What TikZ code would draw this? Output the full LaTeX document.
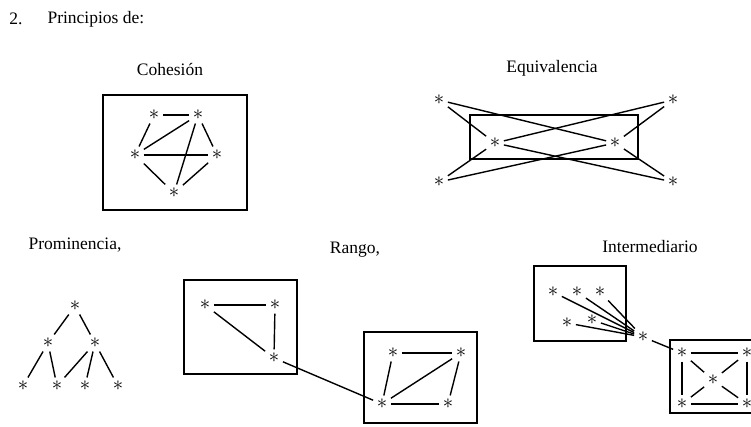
\documentclass[tikz,border=0pt]{standalone}
\usepackage{fontspec}
\setmainfont{Liberation Serif}
\usetikzlibrary{positioning}

\tikzset{
  astnode/.style={inner sep=3.5pt, font=\fontsize{21}{21}\selectfont},
  title/.style={font=\fontsize{17.5}{19}\selectfont},
  link/.style={line width=1.4pt},
  frame/.style={line width=1.3pt}
}
\newcommand{\ask}{$\ast$}

\begin{document}
\begin{tikzpicture}[x=1pt, y=-1pt]
\useasboundingbox (0,0) rectangle (751,427);

\node[title] (num)  at (16,19) {2.};
\node[title, anchor=west] (head) at (44,19) {Principios de:};

% Cohesion
\node[title] (tcoh) at (170,70) {Cohesión};
\draw[frame] (103,95) rectangle (247,210);
\node[astnode] (c1) at (154,115) {\ask};
\node[astnode] (c2) at (198,115) {\ask};
\node[astnode] (c3) at (135,155) {\ask};
\node[astnode] (c4) at (217,155) {\ask};
\node[astnode] (c5) at (174,193) {\ask};
\draw[link] (c1) -- (c2);
\draw[link] (c1) -- (c3);
\draw[link] (c2) -- (c4);
\draw[link] (c3) -- (c5);
\draw[link] (c4) -- (c5);
\draw[link] (c2) -- (c3);
\draw[link] (c2) -- (c5);
\draw[link] (c3) -- (c4);

% Equivalencia
\node[title] (tequ) at (552,68) {Equivalencia};
\draw[frame] (470,115) rectangle (638,159);
\node[astnode] (e1) at (439,100) {\ask};
\node[astnode] (e2) at (439,182) {\ask};
\node[astnode] (e3) at (673,100) {\ask};
\node[astnode] (e4) at (673,182) {\ask};
\node[astnode] (e5) at (495,143) {\ask};
\node[astnode] (e6) at (615,143) {\ask};
\foreach \a/\b in {e1/e5, e1/e6, e2/e5, e2/e6, e3/e6, e3/e5, e4/e6, e4/e5}
  \draw[link] (\a) -- (\b);

% Prominencia
\node[title] (tpro) at (75,245) {Prominencia,};
\node[astnode] (p1) at (75,306) {\ask};
\node[astnode] (p2) at (48,343) {\ask};
\node[astnode] (p3) at (95,343) {\ask};
\node[astnode] (p4) at (23,386) {\ask};
\node[astnode] (p5) at (57,386) {\ask};
\node[astnode] (p6) at (85,386) {\ask};
\node[astnode] (p7) at (118,386) {\ask};
\foreach \a/\b in {p1/p2, p1/p3, p2/p4, p2/p5, p3/p5, p3/p6, p3/p7}
  \draw[link] (\a) -- (\b);

% Rango
\node[title] (tran) at (355,250) {Rango,};
\draw[frame] (184,280) rectangle (297,374);
\draw[frame] (364,332) rectangle (477,423);
\node[astnode] (r1) at (205,305) {\ask};
\node[astnode] (r2) at (275,305) {\ask};
\node[astnode] (r3) at (274,358) {\ask};
\node[astnode] (r4) at (393,353) {\ask};
\node[astnode] (r5) at (461,353) {\ask};
\node[astnode] (r6) at (382,404) {\ask};
\node[astnode] (r7) at (448,404) {\ask};
\foreach \a/\b in {r1/r2, r2/r3, r1/r3, r3/r6, r4/r5, r5/r7, r6/r7, r4/r6, r6/r5}
  \draw[link] (\a) -- (\b);

% Intermediario
\node[title] (tint) at (650,247) {Intermediario};
\draw[frame] (534,266) rectangle (626,341);
\draw[frame] (670,340) rectangle (758,413);
\node[astnode] (i1) at (553,292) {\ask};
\node[astnode] (i2) at (577,292) {\ask};
\node[astnode] (i3) at (600,292) {\ask};
\node[astnode] (i4) at (567,323) {\ask};
\node[astnode] (i5) at (592,320) {\ask};
\node[astnode] (hub) at (643,337) {\ask};
\node[astnode] (q1) at (682,353) {\ask};
\node[astnode] (q2) at (747,353) {\ask};
\node[astnode] (q3) at (713,380) {\ask};
\node[astnode] (q4) at (682,404) {\ask};
\node[astnode] (q5) at (747,404) {\ask};
\foreach \a in {i1, i2, i3, i4, i5, q1}
  \draw[link] (hub) -- (\a);
\foreach \a/\b in {q1/q2, q1/q4, q4/q5, q2/q5, q1/q3, q3/q5, q2/q3, q3/q4}
  \draw[link] (\a) -- (\b);
\end{tikzpicture}
\end{document}
